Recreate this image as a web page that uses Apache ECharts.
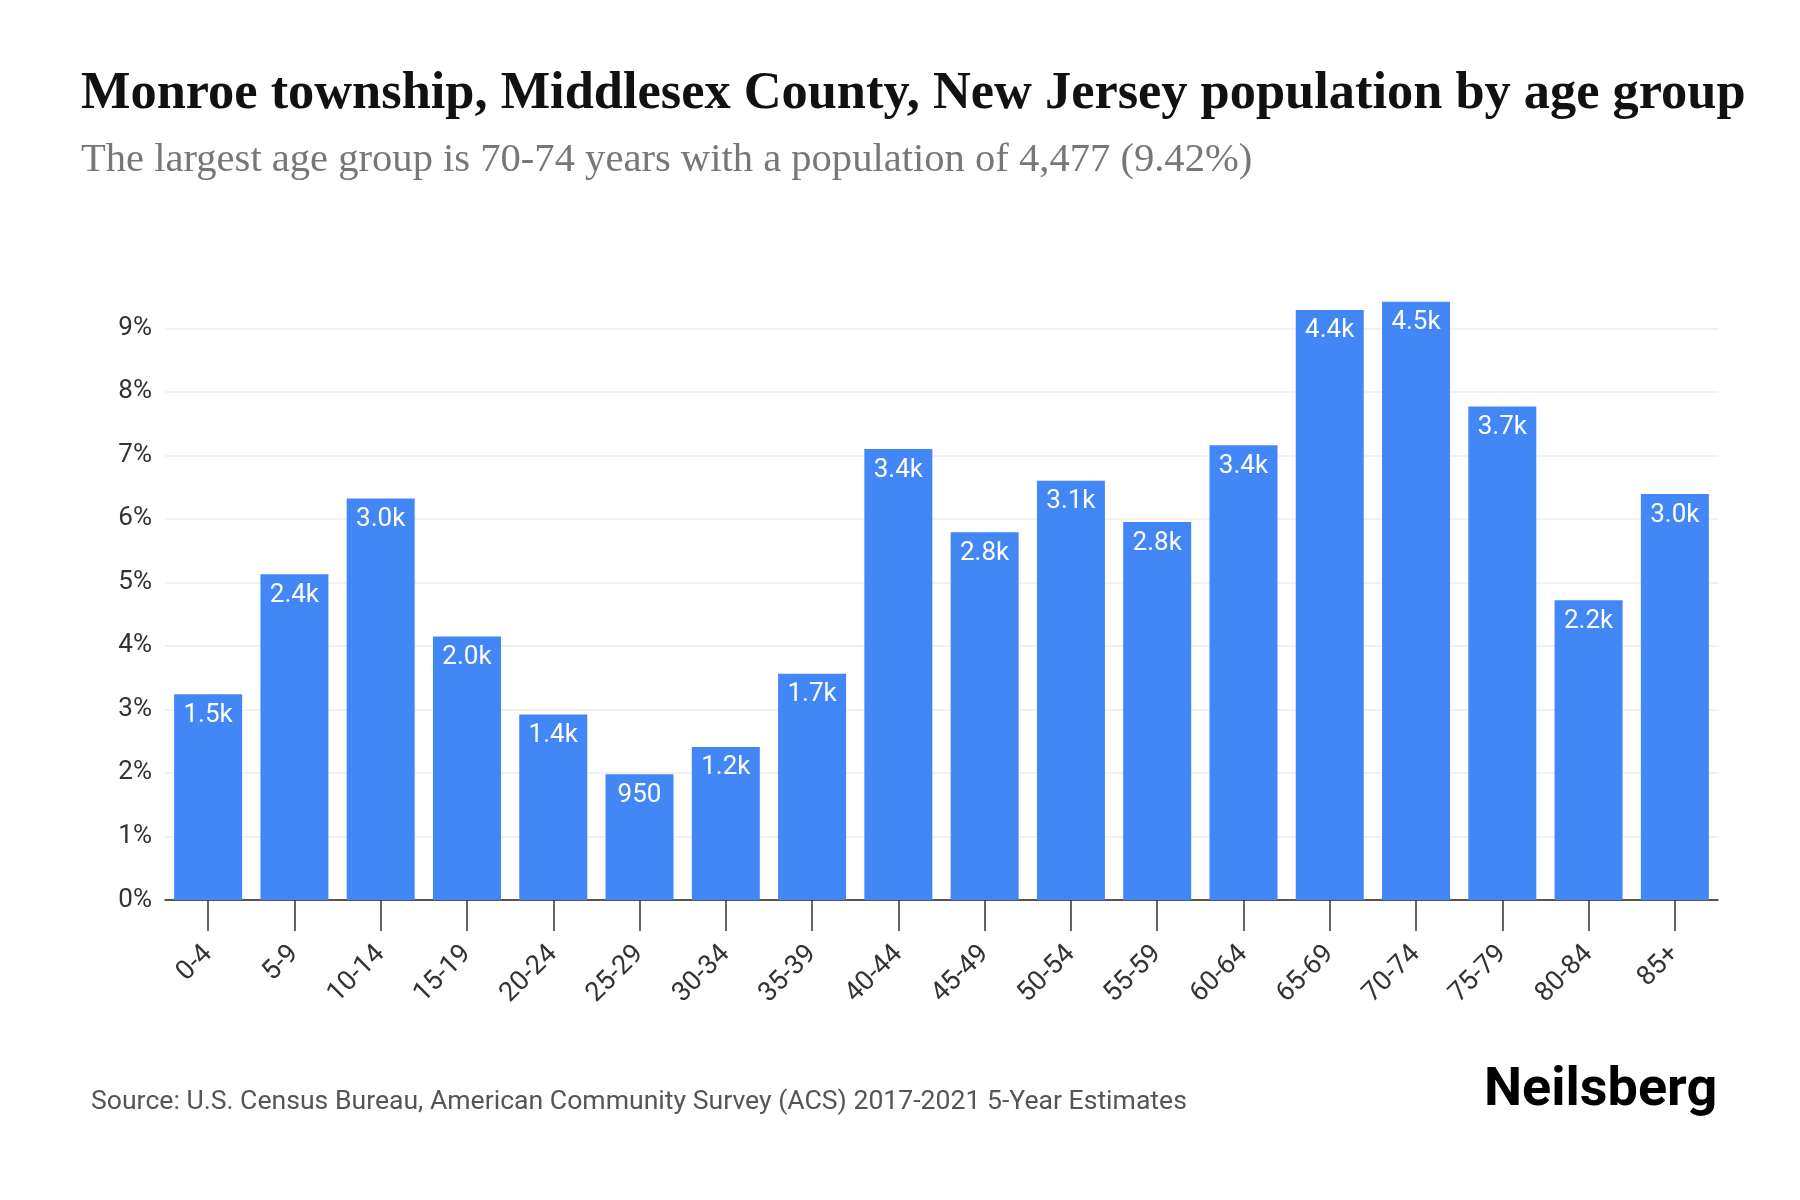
<!DOCTYPE html>
<html>
<head>
<meta charset="utf-8">
<title>Monroe township population by age group</title>
<script src="https://cdn.jsdelivr.net/npm/echarts@6/dist/echarts.min.js"></script>
<style>
  html, body { margin: 0; padding: 0; background: #fff; }
  #chart { width: 1800px; height: 1200px; }
</style>
</head>
<body>
<div id="chart"></div>
<script>
// age groups on the x axis
var ageGroups = ['0-4', '5-9', '10-14', '15-19', '20-24', '25-29', '30-34', '35-39', '40-44',
  '45-49', '50-54', '55-59', '60-64', '65-69', '70-74', '75-79', '80-84', '85+'];

// share of total population, percent (bar heights)
var sharePct = [3.24, 5.13, 6.32, 4.15, 2.92, 1.98, 2.41, 3.56, 7.10,
  5.79, 6.60, 5.95, 7.16, 9.29, 9.42, 7.77, 4.72, 6.39];

// population counts (bar labels)
var population = [1540, 2438, 3004, 1972, 1388, 950, 1152, 1692, 3374,
  2752, 3137, 2828, 3403, 4415, 4477, 3693, 2243, 3037];

var yTicks = [0, 10, 1]; // min, max, step (percent)

var titleText = 'Monroe township, Middlesex County, New Jersey population by age group';
var subtitleText = 'The largest age group is 70-74 years with a population of 4,477 (9.42%)';
var sourceText = 'Source: U.S. Census Bureau, American Community Survey (ACS) 2017-2021 5-Year Estimates';

function fmtPop(v) {
  if (v < 1000) return String(v);
  return (v / 1000).toFixed(1) + 'k';
}

var chart = echarts.init(document.getElementById('chart'));

var option = {
  backgroundColor: '#ffffff',
  animation: false,
  graphic: [
    {
      type: 'text', left: 81, top: 68,
      style: {
        text: titleText,
        font: 'bold 52.4px "Liberation Serif"',
        fill: '#111'
      }
    },
    {
      type: 'text', left: 81, top: 140,
      style: {
        text: subtitleText,
        font: '40.6px "Liberation Serif"',
        fill: '#777'
      }
    },
    {
      type: 'text', left: 91, top: 1089,
      style: {
        text: sourceText,
        font: '26.6px Roboto',
        fill: '#555'
      }
    },
    {
      type: 'text', left: 1484, top: 1064,
      style: {
        text: 'Neilsberg',
        font: 'bold 54px Roboto',
        fill: '#000'
      }
    }
  ],
  grid: {
    left: 165,
    right: 82,
    top: 264.8,
    bottom: 300,
    containLabel: false,
    outerBoundsMode: 'none'
  },
  xAxis: {
    type: 'category',
    data: ageGroups,
    axisLine: { show: true, lineStyle: { color: '#222', width: 1.5 } },
    axisTick: { show: true, alignWithLabel: true, length: 31, lineStyle: { color: '#333', width: 1.5 } },
    axisLabel: {
      rotate: 45,
      margin: 50,
      fontSize: 27,
      fontFamily: 'Roboto',
      color: '#333',
      interval: 0
    },
    splitLine: { show: false }
  },
  yAxis: {
    type: 'value',
    min: yTicks[0],
    max: yTicks[1],
    interval: yTicks[2],
    axisLine: { show: false },
    axisTick: { show: false },
    axisLabel: {
      margin: 13,
      fontSize: 26,
      fontFamily: 'Roboto',
      color: '#333',
      showMaxLabel: false,
      formatter: function (v) { return v + '%'; }
    },
    splitLine: {
      show: true,
      showMaxLine: false,
      lineStyle: { color: '#eeeeee', width: 1.5 }
    }
  },
  series: [{
    type: 'bar',
    data: sharePct,
    barWidth: 68,
    itemStyle: { color: '#4287f5' },
    label: {
      show: true,
      position: 'insideTop',
      distance: 8,
      color: '#ffffff',
      fontSize: 26,
      fontFamily: 'Roboto',
      formatter: function (p) { return fmtPop(population[p.dataIndex]); }
    }
  }]
};

chart.setOption(option);
</script>
</body>
</html>
